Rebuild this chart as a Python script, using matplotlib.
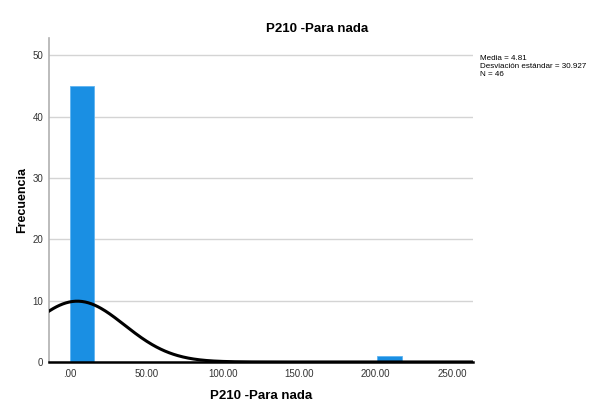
import numpy as np
import matplotlib.pyplot as plt

# histogram data
bin_left = [0.0, 201.0]
bin_count = [45, 1]
bin_width = 16.0

# summary stats shown in the legend box
media = 4.81
desv = 30.927
n_obs = 46

xticks = [0, 50, 100, 150, 200, 250]
xtick_labels = ['.00', '50.00', '100.00', '150.00', '200.00', '250.00']
yticks = [0, 10, 20, 30, 40, 50]

plt.rcParams['font.family'] = ['Liberation Sans', 'DejaVu Sans']

fig = plt.figure(figsize=(5.9, 4.09), dpi=100)
ax = fig.add_axes([0.083, 0.115, 0.719, 0.792])

ax.bar(bin_left, bin_count, width=bin_width, align='edge',
       color='#1a8fe3', edgecolor='#5fb4f0', linewidth=0.6, zorder=2)

# normal curve scaled to the histogram (N * bin width)
xmin, xmax = -13.7, 263.7
xs = np.linspace(xmin, xmax, 400)
curve_scale = n_obs * 16.7
ys = curve_scale / (desv * np.sqrt(2 * np.pi)) * np.exp(-0.5 * ((xs - media) / desv) ** 2)
ax.plot(xs, ys, color='black', linewidth=2.2, zorder=3)

ax.set_xlim(xmin, xmax)
ax.set_ylim(0, 52.8)
ax.set_xticks(xticks)
ax.set_xticklabels(xtick_labels)
ax.set_yticks(yticks)
ax.tick_params(length=0, labelsize=7, colors='#333333', pad=5)
ax.tick_params(axis='y', pad=4)

ax.grid(axis='y', color='#d4d4d4', linewidth=1.0, zorder=0)
ax.set_axisbelow(True)
for s in ['top', 'right']:
    ax.spines[s].set_visible(False)
ax.spines['left'].set_color('#b0b0b0')
ax.spines['left'].set_linewidth(1.2)
ax.spines['bottom'].set_color('black')
ax.spines['bottom'].set_linewidth(1.8)
ax.spines['bottom'].set_zorder(4)

ax.set_xlabel('P210 -Para nada', fontsize=9.5, fontweight='bold', labelpad=8)
ax.set_ylabel('Frecuencia', fontsize=9, fontweight='bold', labelpad=3)

fig.text(317 / 590, 1 - 29 / 409, 'P210 -Para nada', ha='center', va='center',
         fontsize=9.5, fontweight='bold')

fig.text(480 / 590, 1 - 55 / 409,
         f'Media = {media}\nDesviación estándar = {desv}\nN = {n_obs}',
         ha='left', va='top', fontsize=5.8, linespacing=1.25)

fig.savefig('out.png', dpi=100)
